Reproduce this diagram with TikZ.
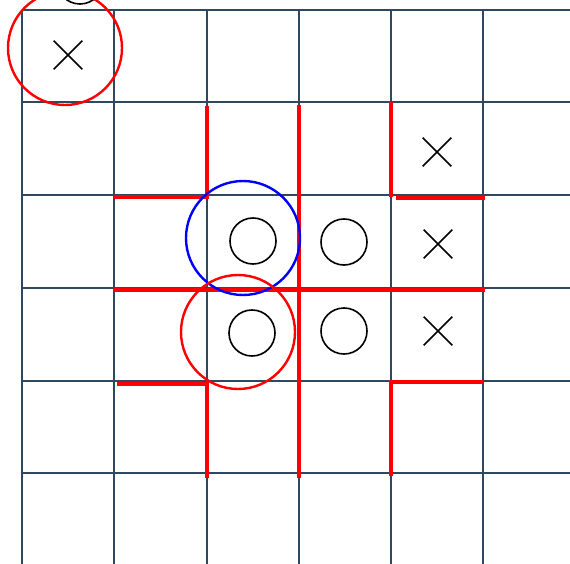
\documentclass[tikz,border=0pt]{standalone}
\usetikzlibrary{shapes.misc}
\definecolor{gridslate}{HTML}{2F4860}

\begin{document}
\begin{tikzpicture}[x=1pt,y=-1pt,
  xmark/.style={draw,cross out,minimum size=27pt,inner sep=0pt,line width=1.6pt},
  omark/.style={draw,circle,minimum size=46pt,inner sep=0pt,line width=1.6pt},
  ring/.style={draw,circle,minimum size=114pt,inner sep=0pt,line width=2.4pt},
  wall/.style={red,line width=4pt}]
  \useasboundingbox (0,0) rectangle (570,564);
  % board
  \foreach \x in {22,114,207,299,391,483}
    \draw[gridslate,line width=2.3pt] (\x,10) -- (\x,564);
  \foreach \y in {10,102,195,288,381,473}
    \draw[gridslate,line width=2.3pt] (22,\y) -- (570,\y);
  % pieces
  \node[omark] (o0) at (80,-19) {};
  \node[xmark] (x1) at (68,55) {};
  \node[xmark] (x2) at (437,152) {};
  \node[xmark] (x3) at (438,244) {};
  \node[xmark] (x4) at (438,331) {};
  \node[omark] (o1) at (253,241) {};
  \node[omark] (o2) at (344,242) {};
  \node[omark] (o3) at (252,333) {};
  \node[omark] (o4) at (344,331) {};
  % walls
  \draw[wall] (114,197) -- (207,197) -- (207,106);
  \draw[wall] (299,105) -- (299,478);
  \draw[wall] (391,102) -- (391,197);
  \draw[wall] (396,198) -- (485,198);
  \draw[wall] (114,290) -- (485,290);
  \draw[wall] (117,384) -- (207,384) -- (207,478);
  \draw[wall] (391,476) -- (391,382) -- (483,382);
  % highlights
  \node[ring,red] (r1) at (65,48) {};
  \node[ring,blue] (r2) at (243,238) {};
  \node[ring,red] (r3) at (238,332) {};
\end{tikzpicture}
\end{document}
